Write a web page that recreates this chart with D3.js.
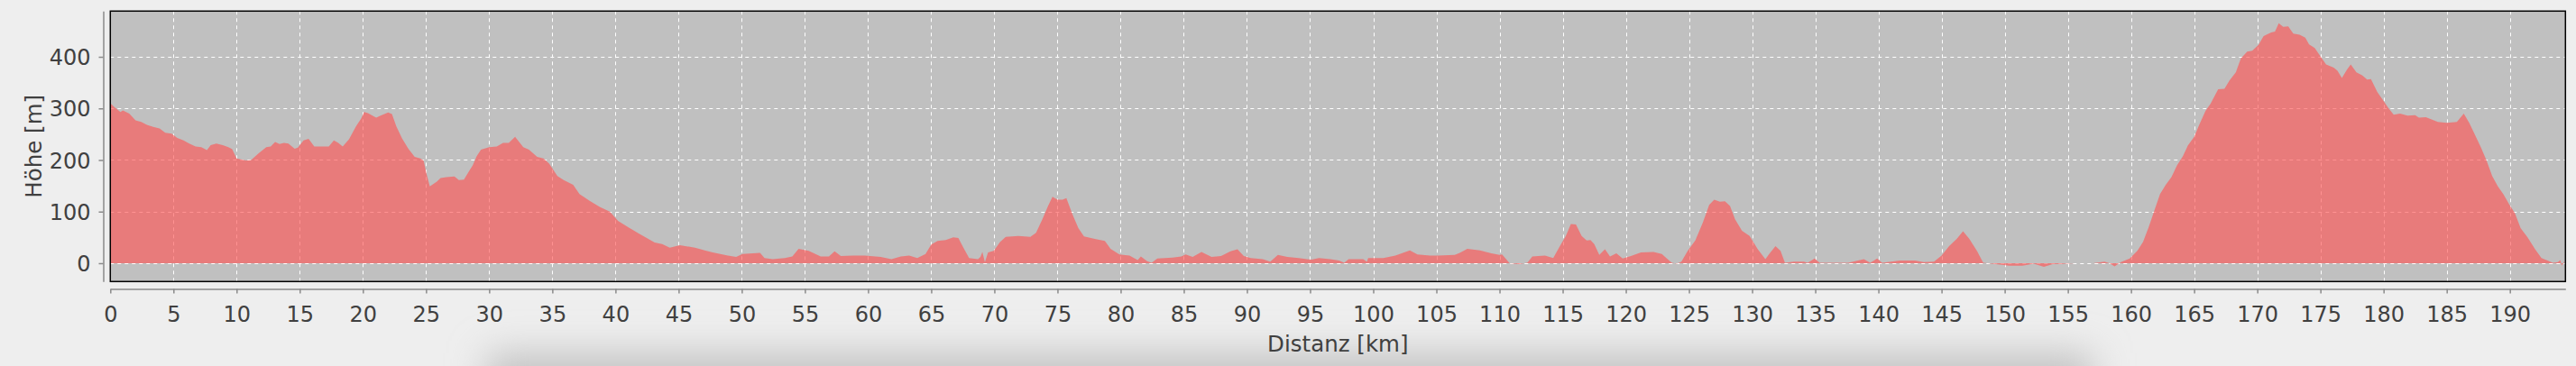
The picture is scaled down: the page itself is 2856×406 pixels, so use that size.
<!DOCTYPE html>
<html>
<head>
<meta charset="utf-8">
<script src="https://cdn.jsdelivr.net/npm/d3@7"></script>
<style>
  html, body { margin: 0; padding: 0; background: #eeeeee; }
  svg { display: block; }
  text { font-family: "DejaVu Sans", sans-serif; }
</style>
</head>
<body>
<svg id="chart" width="2856" height="406"></svg>
<script>
// Distance along the route [km]
const distanceKm = [
  0, 0.3, 0.8, 1.0, 1.5, 2.0, 2.45, 2.9, 3.4, 3.9, 4.35, 4.85, 5.3, 5.8, 6.25, 6.75, 7.2, 7.65, 7.95, 8.4,
  8.9, 9.35, 9.65, 10.0, 10.75, 11.15, 11.75, 12.35, 12.7, 13.05, 13.4, 13.75, 14.1, 14.6, 14.85, 15.3, 15.7, 16.15, 16.6, 17.3,
  17.7, 18.05, 18.4, 18.9, 19.45, 19.85, 20.1, 20.4, 21.05, 21.4, 22.0, 22.3, 22.65, 23.1, 23.6, 24.1, 24.55, 24.8, 25.05, 25.3,
  25.85, 26.15, 26.6, 27.25, 27.6, 28.0, 28.4, 28.7, 29.0, 29.35, 30.0, 30.6, 31.1, 31.55, 32.05, 32.7, 33.15, 33.8, 34.3, 34.75,
  35.4, 35.9, 36.65, 37.15, 37.95, 38.75, 39.55, 40.2, 41.0, 41.75, 42.6, 43.1, 43.7, 44.3, 45.1, 46.3, 47.2, 47.7, 48.3, 48.9,
  49.55, 50.05, 51.45, 51.8, 52.45, 53.4, 54.0, 54.5, 55.3, 56.25, 56.9, 57.35, 57.85, 58.8, 59.75, 61.0, 61.85, 62.6, 63.25, 63.9,
  64.55, 65.0, 65.5, 66.15, 66.75, 67.15, 67.55, 68.0, 68.7, 68.9, 69.05, 69.25, 69.5, 69.95, 70.45, 70.9, 71.9, 72.85, 73.3, 73.8,
  74.25, 74.6, 75.0, 75.4, 75.7, 76.2, 76.65, 77.1, 77.95, 78.75, 79.2, 79.9, 80.7, 81.35, 81.6, 82.1, 82.45, 82.9, 84.1, 84.8,
  85.15, 85.7, 86.4, 87.2, 87.95, 88.7, 89.25, 89.75, 90.3, 91.25, 91.85, 92.45, 93.2, 94.1, 94.75, 95.1, 95.7, 96.6, 97.3, 97.7,
  98.05, 99.2, 99.5, 99.6, 100.8, 101.75, 102.9, 103.5, 104.5, 105.1, 106.45, 106.85, 107.45, 108.45, 109.35, 110.0, 110.2, 110.8, 111.5, 112.2,
  112.6, 113.6, 114.25, 114.85, 115.25, 115.65, 116.05, 116.5, 116.9, 117.2, 117.5, 117.9, 118.35, 118.75, 119.25, 119.75, 120.4, 121.2, 122.2, 122.85,
  123.25, 123.65, 124.05, 124.4, 124.9, 125.5, 126.1, 126.6, 127.0, 127.45, 127.85, 128.25, 128.65, 129.2, 129.8, 130.45, 131.05, 131.35, 131.85, 132.25,
  132.6, 133.3, 134.1, 134.4, 134.95, 135.35, 136.4, 137.6, 138.85, 139.35, 139.9, 140.3, 141.7, 142.9, 143.6, 144.4, 145.0, 145.6, 146.2, 146.7,
  147.2, 147.8, 148.3, 149.3, 150.35, 151.4, 152.3, 153.1, 153.8, 154.8, 155.6, 157.0, 157.9, 158.3, 158.7, 159.2, 159.9, 160.5, 160.95, 161.4,
  161.85, 162.3, 162.75, 163.2, 163.65, 164.1, 164.5, 165.0, 165.4, 165.9, 166.3, 166.9, 167.4, 167.8, 168.3, 168.7, 169.2, 169.6, 170.1, 170.5,
  171.1, 171.4, 171.7, 172.05, 172.45, 172.85, 173.35, 173.8, 174.1, 174.55, 175.0, 175.45, 176.05, 176.35, 176.7, 177.1, 177.4, 177.85, 178.3, 178.7,
  179.0, 179.5, 179.9, 180.4, 180.8, 181.3, 181.9, 182.5, 182.8, 183.35, 184.3, 185.0, 185.8, 186.35, 186.8, 187.25, 187.7, 188.15, 188.6, 189.05,
  189.5, 189.95, 190.4, 190.85, 191.4, 192.0, 192.5, 192.9, 193.4, 193.8, 194.0, 194.1, 194.3
];

// Elevation [m]
const elevationM = [
  310, 303, 293, 296, 290, 277, 274, 268, 264, 261, 253, 251, 243, 238, 232, 226, 225, 219, 229, 232,
  229, 225, 221, 203, 199, 200, 213, 225, 226, 235, 231, 233, 232, 222, 224, 238, 241, 226, 226, 226,
  238, 233, 226, 240, 265, 280, 293, 291, 282, 286, 292, 289, 265, 242, 222, 206, 203, 199, 172, 149,
  158, 165, 167, 168, 161, 162, 178, 190, 207, 220, 225, 226, 233, 233, 245, 225, 220, 206, 203, 193,
  169, 161, 152, 134, 121, 109, 100, 82, 70, 59, 47, 40, 37, 30, 35, 30, 24, 21, 18, 15,
  12, 18, 20, 10, 8, 10, 13, 28, 24, 13, 13, 23, 14, 15, 15, 12, 8, 13, 15, 10,
  18, 36, 43, 45, 50, 49, 30, 10, 8, 12, 22, 2, 21, 24, 41, 51, 53, 51, 59, 85,
  111, 129, 123, 123, 126, 94, 68, 52, 47, 43, 28, 17, 15, 6, 13, 4, 1, 9, 11, 13,
  17, 12, 22, 12, 14, 23, 27, 14, 10, 8, 3, 16, 12, 10, 8, 7, 10, 8, 5, 1,
  8, 8, 3, 10, 10, 15, 25, 17, 15, 15, 16, 20, 28, 25, 19, 16, 17, 0, -2, 1,
  13, 15, 10, 36, 53, 76, 75, 53, 44, 45, 37, 16, 27, 13, 19, 9, 14, 21, 22, 18,
  9, 1, -1, 3, 24, 44, 79, 113, 123, 119, 120, 111, 85, 63, 53, 27, 8, 18, 33, 24,
  1, 3, 3, 1, 9, 1, 1, 1, 8, 1, 9, 1, 5, 5, 2, 3, 15, 33, 47, 62,
  47, 24, 1, -2, -5, -5, -1, -7, -2, -1, 0, 0, 3, 0, -6, 2, 9, 24, 41, 70,
  102, 134, 152, 167, 190, 207, 228, 245, 268, 295, 309, 337, 338, 354, 370, 397, 410, 412, 423, 440,
  447, 449, 465, 458, 459, 445, 443, 437, 424, 417, 401, 385, 379, 373, 359, 375, 385, 370, 364, 356,
  357, 332, 318, 300, 288, 290, 286, 287, 282, 283, 274, 272, 274, 290, 271, 248, 225, 199, 169, 149,
  133, 114, 97, 68, 50, 27, 10, 6, 1, 2, 6, -5, 3
];

const xTickValues = d3.range(0, 191, 5);
const yTickValues = [0, 100, 200, 300, 400];
const xAxisTitle = "Distanz [km]";
const yAxisTitle = "Höhe [m]";

const data = distanceKm.map((d, i) => ({ km: d, m: elevationM[i] }));

const svg = d3.select("#chart");
const plot = { left: 122.3, right: 2844.3, top: 12.3, bottom: 312.3 };

const x = d3.scaleLinear().domain([0, 194.4]).range([plot.left, plot.right]);
const y = d3.scaleLinear().domain([-35.5, 488.6]).range([plot.bottom, plot.top]);

// bottom soft shadow
const defs = svg.append("defs");
const blur = defs.append("filter").attr("id", "soft")
  .attr("x", "-20%").attr("y", "-200%").attr("width", "140%").attr("height", "500%");
blur.append("feGaussianBlur").attr("stdDeviation", 20);
svg.append("rect")
  .attr("x", 540).attr("y", 392).attr("width", 1780).attr("height", 60)
  .attr("fill", "#c2c2c2").attr("filter", "url(#soft)");

defs.append("clipPath").attr("id", "clip").append("rect")
  .attr("x", plot.left).attr("y", plot.top)
  .attr("width", plot.right - plot.left).attr("height", plot.bottom - plot.top);

// plot background
svg.append("rect")
  .attr("x", plot.left).attr("y", plot.top)
  .attr("width", plot.right - plot.left).attr("height", plot.bottom - plot.top)
  .attr("fill", "#c0c0c0");

// gridlines
const grid = svg.append("g").attr("clip-path", "url(#clip)");
grid.selectAll("line.v").data(xTickValues).join("line")
  .attr("x1", d => Math.round(x(d)) + 0.5).attr("x2", d => Math.round(x(d)) + 0.5)
  .attr("y1", plot.top).attr("y2", plot.bottom)
  .attr("stroke", "#ffffff").attr("stroke-width", 1).attr("stroke-dasharray", "4,4");
grid.selectAll("line.h").data(yTickValues).join("line")
  .attr("y1", d => Math.round(y(d)) + 0.5).attr("y2", d => Math.round(y(d)) + 0.5)
  .attr("x1", plot.left).attr("x2", plot.right)
  .attr("stroke", "#ffffff").attr("stroke-width", 1).attr("stroke-dasharray", "4,4");

// area
const area = d3.area().x(d => x(d.km)).y0(y(0)).y1(d => y(d.m));
svg.append("path").datum(data)
  .attr("clip-path", "url(#clip)")
  .attr("d", area)
  .attr("fill", "#ff5555").attr("fill-opacity", 0.64);

// plot border
svg.append("rect")
  .attr("x", plot.left).attr("y", plot.top)
  .attr("width", plot.right - plot.left).attr("height", plot.bottom - plot.top)
  .attr("fill", "none").attr("stroke", "#000").attr("stroke-width", 1.5);

// axes
const axisColor = "#8a8a8a";
const textColor = "#404040";

const yAxisX = 114.5;
const yAxis = svg.append("g").attr("transform", `translate(${yAxisX},0)`)
  .call(d3.axisLeft(y).tickValues(yTickValues).tickSize(5).tickPadding(9).tickSizeOuter(0));
yAxis.select(".domain").attr("stroke", axisColor).attr("stroke-width", 1.5);
yAxis.selectAll(".tick line").attr("stroke", axisColor).attr("stroke-width", 1.5);
yAxis.selectAll(".tick text").attr("fill", textColor).attr("font-size", 24)
  .attr("font-family", "DejaVu Sans, sans-serif").attr("dy", "0.36em");

const xAxisY = 320.5;
const xAxis = svg.append("g").attr("transform", `translate(0,${xAxisY})`)
  .call(d3.axisBottom(x).tickValues(xTickValues).tickSize(5).tickPadding(14).tickSizeOuter(0));
xAxis.select(".domain").attr("stroke", axisColor).attr("stroke-width", 1.5);
xAxis.selectAll(".tick line").attr("stroke", axisColor).attr("stroke-width", 1.5);
xAxis.selectAll(".tick text").attr("fill", textColor).attr("font-size", 24)
  .attr("font-family", "DejaVu Sans, sans-serif");

// axis titles
svg.append("text")
  .attr("x", (plot.left + plot.right) / 2).attr("y", 389.5)
  .attr("text-anchor", "middle").attr("fill", textColor).attr("font-size", 24.5)
  .text(xAxisTitle);
svg.append("text")
  .attr("transform", `translate(45.5,${(plot.top + plot.bottom) / 2}) rotate(-90)`)
  .attr("text-anchor", "middle").attr("fill", textColor).attr("font-size", 24.5)
  .text(yAxisTitle);
</script>
</body>
</html>
